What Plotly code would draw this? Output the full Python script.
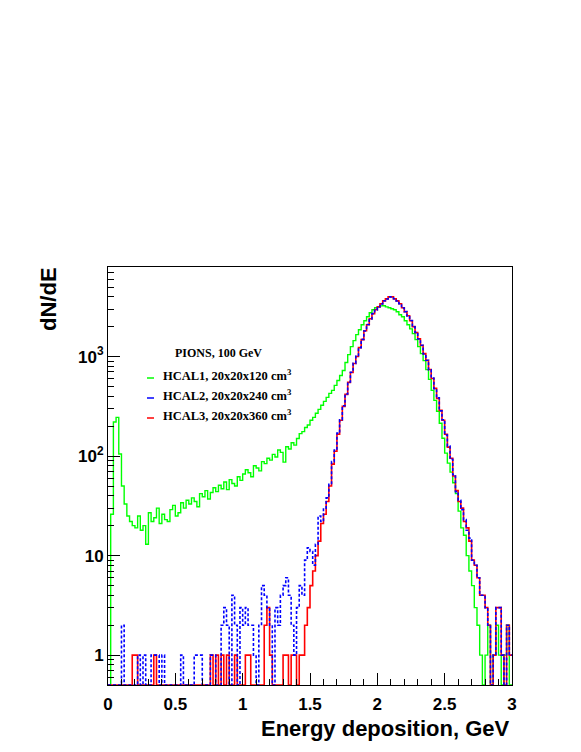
import plotly.graph_objects as go

# histogram binning: 150 bins of 0.02 GeV from 0 to 3
bin_edges = [round(i * 0.02, 2) for i in range(151)]

hcal1 = [
    0, 26, 220, 245, 105, 50, 33, 25, 22, 20,
    19, 25, 18, 20, 13, 27, 22, 24, 30, 21,
    26, 23, 22, 29, 32, 25, 27, 34, 30, 36,
    33, 38, 35, 31, 42, 39, 45, 37, 43, 48,
    44, 51, 47, 55, 46, 58, 53, 50, 62, 57,
    66, 73, 68, 62, 80, 76, 71, 88, 84, 95,
    91, 104, 98, 115, 109, 87, 124, 118, 136, 129,
    150, 168, 176, 194, 205, 229, 245, 269, 295, 324,
    355, 389, 427, 457, 513, 575, 646, 724, 871, 1047,
    1259, 1445, 1660, 1862, 2089, 2291, 2512, 2754, 2951, 3090,
    3160, 3230, 3240, 3160, 3090, 3020, 2950, 2820, 2630, 2510,
    2290, 2090, 1900, 1700, 1480, 1260, 1070, 910, 740, 590,
    457, 363, 282, 214, 151, 107, 85, 69, 54, 42,
    28, 19, 16, 10, 7, 5, 3, 2, 1, 0,
    1, 2, 0, 1, 2, 1, 0, 1, 2, 0,
]

hcal2 = [
    0, 0, 0, 0, 0, 2, 0, 0, 0, 0,
    0, 1, 0, 1, 0, 0, 1, 1, 1, 0,
    1, 0, 0, 0, 0, 0, 0, 1, 0, 0,
    0, 0, 1, 1, 1, 0, 0, 0, 1, 1,
    0, 0, 2, 3, 2, 0, 4, 2, 0, 3,
    2, 3, 2, 2, 1, 0, 2, 5, 4, 3,
    2, 0, 3, 2, 4, 5, 6, 4, 2, 1,
    3, 5, 4, 9, 12, 11, 8, 13, 25, 22,
    30, 38, 52, 88, 115, 170, 232, 320, 420, 555,
    695, 855, 1005, 1225, 1490, 1810, 2100, 2390, 2700, 2940,
    3170, 3380, 3640, 3790, 3990, 3970, 3810, 3620, 3400, 3080,
    2830, 2560, 2300, 1990, 1750, 1500, 1300, 1060, 920, 735,
    610, 475, 385, 285, 232, 163, 126, 93, 65, 44,
    36, 29, 23, 18, 15, 9, 8, 6, 4, 4,
    3, 2, 0, 1, 3, 3, 1, 0, 2, 1,
]

hcal3 = [
    0, 0, 0, 0, 0, 0, 0, 0, 0, 1,
    1, 0, 0, 0, 0, 0, 0, 1, 0, 0,
    0, 0, 0, 0, 0, 0, 0, 0, 0, 0,
    0, 0, 0, 0, 0, 0, 0, 0, 1, 0,
    1, 0, 1, 0, 1, 0, 0, 1, 0, 0,
    0, 1, 1, 0, 0, 0, 0, 0, 2, 3,
    1, 0, 0, 0, 0, 1, 1, 0, 1, 1,
    0, 1, 1, 2, 3, 5, 7, 10, 14, 21,
    26, 35, 50, 83, 112, 166, 229, 316, 417, 550,
    692, 851, 1000, 1230, 1480, 1820, 2090, 2400, 2690, 2950,
    3160, 3390, 3630, 3800, 3980, 3980, 3800, 3630, 3390, 3090,
    2820, 2570, 2290, 2000, 1740, 1510, 1290, 1070, 912, 741,
    603, 479, 380, 288, 229, 166, 123, 95, 63, 45,
    35, 30, 22, 19, 14, 9, 8, 6, 4, 4,
    3, 2, 0, 1, 3, 3, 1, 0, 2, 1,
]

legend_title = "PIONS, 100 GeV"
labels = ["HCAL1, 20x20x120 cm<sup>3</sup>",
          "HCAL2, 20x20x240 cm<sup>3</sup>",
          "HCAL3, 20x20x360 cm<sup>3</sup>"]
colors = ["#00ff00", "#0000ff", "#ff0000"]

x_ticks = [0, 0.5, 1, 1.5, 2, 2.5, 3]
x_ticktext = ["0", "0.5", "1", "1.5", "2", "2.5", "3"]
y_ticks = [1, 10, 100, 1000]
y_ticktext = ["1", "10", "10<sup>2</sup>", "10<sup>3</sup>"]

y_log_min, y_log_max = -0.3, 3.9
floor = 10 ** y_log_min  # empty bins drawn on the bottom edge


def step(vals):
    y = [v if v > 0 else floor for v in vals]
    return bin_edges, y + [y[-1]]


fig = go.Figure()
for vals, col, dash, w in [(hcal1, colors[0], "solid", 1.4),
                           (hcal3, colors[2], "solid", 1.6),
                           (hcal2, colors[1], "3px,2px", 1.6)]:
    xs, ys = step(vals)
    fig.add_trace(go.Scatter(x=xs, y=ys, mode="lines", line_shape="hv",
                             line=dict(color=col, width=w, dash=dash),
                             showlegend=False))

axis_font = dict(family="Liberation Sans", size=17, color="black", weight="bold")

fig.update_xaxes(range=[0, 3], tickvals=x_ticks, ticktext=x_ticktext,
                 ticks="inside", ticklen=12, tickcolor="black",
                 minor=dict(ticks="inside", ticklen=6, dtick=0.1, tickcolor="black"),
                 showline=True, mirror=True, linecolor="black", linewidth=1,
                 showgrid=False, zeroline=False, tickfont=axis_font,
                 ticklabelstandoff=4, automargin=False)
fig.update_yaxes(type="log", range=[y_log_min, y_log_max],
                 tickvals=y_ticks, ticktext=y_ticktext,
                 ticks="inside", ticklen=12, tickcolor="black",
                 minor=dict(ticks="inside", ticklen=6, tickcolor="black",
                            tickvals=[m * 10 ** d for d in range(-1, 4) for m in range(2, 10)]),
                 showline=True, mirror=True, linecolor="black", linewidth=1,
                 showgrid=False, zeroline=False, tickfont=axis_font,
                 automargin=False)

# page has an 8px body margin; plot box in page pixels
OFF = 8
W, H = 581 - OFF, 752 - OFF
L, R, T, B = 108, 512, 267, 685


def px(x):
    return (x - L) / (R - L)


def py(y):
    return (B - y) / (B - T)


annotations = [
    dict(text="dN/dE", x=px(48), y=py(265), textangle=-90, xanchor="center", yanchor="top",
         font=dict(family="Liberation Sans", size=22, weight="bold", color="black")),
    dict(text="Energy deposition, GeV", x=px(511), y=py(728), xanchor="right", yanchor="middle",
         font=dict(family="Liberation Sans", size=22, weight="bold", color="black")),
    dict(text=legend_title, x=px(218), y=py(353), xanchor="center", yanchor="middle",
         font=dict(family="Liberation Serif", size=12, weight="bold", color="black")),
]
shapes = []
for i, (lab, col) in enumerate(zip(labels, colors)):
    yy = [378, 398, 418][i]
    shapes.append(dict(type="line", xref="paper", yref="paper",
                       x0=px(147), x1=px(154), y0=py(yy), y1=py(yy),
                       line=dict(color=col, width=1.5)))
    annotations.append(dict(text=lab, x=px(161), y=py(yy - 3), xanchor="left", yanchor="middle",
                            font=dict(family="Liberation Serif", size=12.5, weight="bold", color="black")))
for a in annotations:
    a.update(xref="paper", yref="paper", showarrow=False)

fig.update_layout(width=W, height=H,
                  margin=dict(l=L - OFF, r=W - (R - OFF), t=T - OFF, b=H - (B - OFF), autoexpand=False),
                  plot_bgcolor="white", paper_bgcolor="white",
                  showlegend=False, annotations=annotations, shapes=shapes)

fig.write_html("out.html")
